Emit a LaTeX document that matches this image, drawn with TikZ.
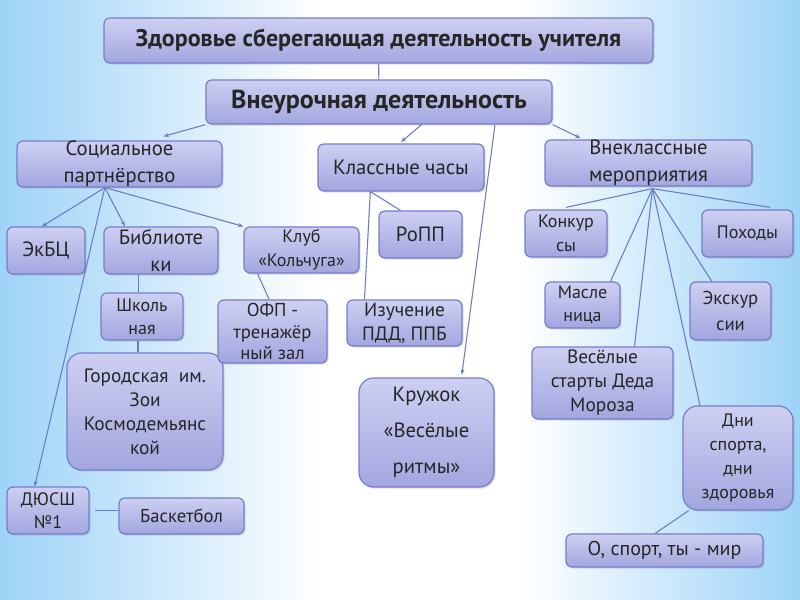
\documentclass[tikz,border=0pt]{standalone}
\usepackage{fontspec}
\setmainfont{PT Sans}
\usetikzlibrary{arrows.meta,shadows}
\definecolor{bgblue}{HTML}{9ED3F7}
\definecolor{boxtop}{HTML}{CDD0F1}
\definecolor{boxbot}{HTML}{A2A6DF}
\definecolor{boxline}{HTML}{767DCB}
\definecolor{linkcol}{HTML}{6B7BC6}
\newcommand{\fs}[2]{\fontsize{#1}{#2}\selectfont}
\tikzset{
    bx/.style={draw=boxline, line width=0.9pt, rounded corners=4.5pt,
        top color=boxtop, bottom color=boxbot, align=center, inner sep=0pt,
        text=black!85, font=\fs{15.5}{20},
        drop shadow={opacity=0.25, shadow xshift=1.2pt, shadow yshift=-1.2pt}},
    bigbx/.style={bx, rounded corners=11pt},
    link/.style={draw=linkcol, line width=0.8pt},
    arr/.style={link, -{Stealth[length=4pt,width=3pt]}}
}
\begin{document}
\begin{tikzpicture}[x=0.75pt, y=-0.75pt]
    \useasboundingbox (0,0) rectangle (800,600);
    \fill[white] (0,0) rectangle (800,600);
    \shade[left color=bgblue, right color=white] (0,0) rectangle (320,600);
    \shade[left color=white, right color=bgblue] (520,0) rectangle (800,600);

    \node[bx, minimum width=411.75pt, minimum height=33.75pt, font=\fs{18}{21}\bfseries] (top) at (378.5,40.5) {Здоровье сберегающая деятельность учителя};
    \node[bx, minimum width=259.5pt, minimum height=33pt, font=\fs{19.5}{22}\bfseries] (vneur) at (379,102) {Внеурочная деятельность};

    \node[bx, minimum width=153.75pt, minimum height=34.5pt] (soc) at (119.5,164) {Социальное\\партнёрство};
    \node[bx, minimum width=124.5pt, minimum height=35.25pt] (klass) at (401,167.5) {Классные часы};
    \node[bx, minimum width=155.25pt, minimum height=34.5pt] (vnekl) at (648.5,163) {Внеклассные\\мероприятия};

    % социальное партнёрство
    \node[bx, minimum width=58.5pt, minimum height=35.25pt] (ekbc) at (46,250.5) {ЭкБЦ};
    \node[bx, minimum width=85.5pt, minimum height=35.25pt] (bibl) at (161,250.5) {Библиоте\\ки};
    \node[bx, minimum width=86.25pt, minimum height=34.5pt, font=\fs{13.5}{18}] (klub) at (301.5,250) {Клуб\\«Кольчуга»};
    \node[bx, minimum width=61.5pt, minimum height=35.25pt, font=\fs{13.5}{17}] (shk) at (142,316.5) {Школь\\ная};
    \node[bigbx, minimum width=117pt, minimum height=87.75pt, font=\fs{14.5}{18}] (gor) at (145,411.5) {Городская~~им.\\Зои\\Космодемьянс\\кой};
    \node[bx, minimum width=81.75pt, minimum height=47.25pt, font=\fs{14}{16}] (ofp) at (272.5,331.5) {ОФП -\\тренажёр\\ный зал};
    \node[bx, minimum width=61.5pt, minimum height=35.25pt, font=\fs{13.5}{17}] (dyush) at (48,510.5) {ДЮСШ\\№1};
    \node[bx, minimum width=93.75pt, minimum height=27pt, font=\fs{14}{17}] (basket) at (181.5,516) {Баскетбол};

    % классные часы
    \node[bx, minimum width=62.25pt, minimum height=35.25pt] (ropp) at (420.5,234.5) {РоПП};
    \node[bx, minimum width=86.25pt, minimum height=34.5pt, font=\fs{14.5}{18}] (izuch) at (404.5,323) {Изучение\\ПДД, ППБ};
    \node[bigbx, minimum width=101.25pt, minimum height=81.75pt, font=\fs{15.5}{27}] (kruzh) at (426.5,432.5) {Кружок\\«Весёлые\\ритмы»};

    % внеклассные мероприятия
    \node[bx, minimum width=61.5pt, minimum height=35.25pt, font=\fs{13.5}{18}] (konk) at (566,233.5) {Конкур\\сы};
    \node[bx, minimum width=68.25pt, minimum height=35.25pt, font=\fs{13.5}{17}] (pohod) at (747.5,233.5) {Походы};
    \node[bx, minimum width=56.25pt, minimum height=34.5pt, font=\fs{13.5}{17}] (masl) at (582.5,305) {Масле\\ница};
    \node[bx, minimum width=60.75pt, minimum height=43.5pt, font=\fs{14}{19}] (ekskur) at (730.5,311) {Экскур\\сии};
    \node[bx, minimum width=105.75pt, minimum height=54pt, font=\fs{14.5}{18}] (vesel) at (602.5,383) {Весёлые\\старты Деда\\Мороза};
    \node[bigbx, minimum width=82.5pt, minimum height=78pt, font=\fs{13.5}{18}] (dni) at (738,458) {Дни\\спорта,\\дни\\здоровья};
    \node[bx, minimum width=147.75pt, minimum height=24.75pt, font=\fs{15}{18}] (osport) at (664.5,550.5) {О, спорт, ты - мир};

    \coordinate (socb) at ([xshift=-11pt]soc.south);
    \coordinate (klb) at ([xshift=-23pt]klass.south);
    \coordinate (vnb) at ([xshift=3pt, yshift=-1.5pt]vnekl.south);

    \draw[link] (top) -- (vneur);
    \draw[arr] (vneur.south west) -- ([xshift=33pt, yshift=3pt]soc.north);
    \draw[arr] ([xshift=32pt]vneur.south) -- ([yshift=1pt]klass.north);
    \draw[arr] ([xshift=87pt]vneur.south) -- ([xshift=26.5pt, yshift=2pt]kruzh.north);
    \draw[arr] (vneur.south east) -- ([xshift=-51pt, yshift=1pt]vnekl.north);

    \draw[arr] (socb) -- ([xshift=-3pt]ekbc.north);
    \draw[arr] (socb) -- ([xshift=-27pt]bibl.north);
    \draw[arr] (socb) -- (klub.north west);
    \draw[arr] (socb) -- ([xshift=-10pt]dyush.north);
    \draw[link] ([xshift=-17pt]bibl.south) -- ([xshift=-17pt]bibl.south |- shk.north);
    \draw[link] ([xshift=-3pt]shk.south) -- ([xshift=-3pt]shk.south |- gor.north);
    \draw[link] ([xshift=-33pt]klub.south) -- ([xshift=-2.5pt]ofp.north);
    \draw[link] ([xshift=4pt]dyush.east) -- (dyush.east -| basket.west);

    \draw[link] (klb) -- ([xshift=-15pt]ropp.north);
    \draw[link] (klb) -- ([xshift=-30pt]izuch.north);

    \draw[link] (vnb) -- ([yshift=1.5pt]konk.north);
    \draw[link] (vnb) -- ([xshift=17pt, yshift=1.5pt]pohod.north);
    \draw[link] (vnb) -- ([xshift=21pt]masl.north);
    \draw[link] (vnb) -- ([xshift=-14pt]ekskur.north);
    \draw[link] (vnb) -- ([xshift=24pt]vesel.north);
    \draw[link] (vnb) -- ([xshift=-28.5pt]dni.north);
    \draw[link] ([xshift=-37pt]dni.south) -- ([xshift=-7pt]osport.north);
\end{tikzpicture}
\end{document}
